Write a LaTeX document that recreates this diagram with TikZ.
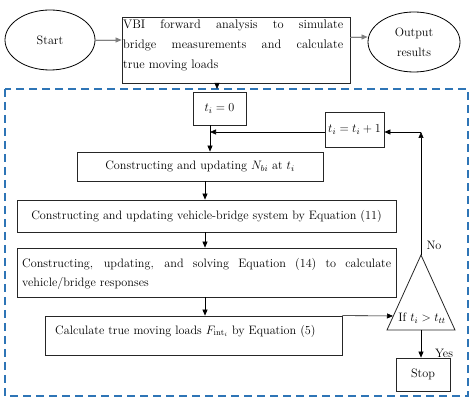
\RequirePackage{fix-cm}
\documentclass[tikz,border=0pt]{standalone}
\usepackage{fontspec}
\usetikzlibrary{arrows.meta,shapes.geometric}
\definecolor{dashblue}{RGB}{46,117,182}
\begin{document}
\begin{tikzpicture}[x=1pt,y=-1pt,
  every node/.style={font=\fontsize{12.2}{19}\selectfont},
  box/.style={draw=black!85,line width=0.8pt,rectangle,inner sep=0pt},
  oval/.style={draw=black,line width=0.8pt,ellipse,inner sep=0pt},
  arr/.style={-{Triangle[length=6pt,width=5pt]},line width=0.6pt,black},
  garr/.style={-{Triangle[length=6pt,width=5pt]},line width=0.7pt,draw=black!50,fill=black},
  lbl/.style={inner sep=0pt}]
\useasboundingbox (0,0) rectangle (474,403);
% top row
\node[oval,minimum width=90pt,minimum height=60pt] (start) at (50,40) {Start};
\node[box,minimum width=228pt,minimum height=66pt] (vbi) at (236,50) {};
\node[lbl,anchor=north west,text width=220pt,align=justify,font=\fontsize{12.4}{20}\selectfont] (vbitext) at (123,20) {VBI forward analysis to simulate\linebreak bridge measurements and calculate\linebreak true moving loads};
\node[oval,minimum width=92pt,minimum height=60pt,align=center,font=\fontsize{12.2}{20}\selectfont] (out) at (414,42) {Output\\results};
\draw[garr] (start.east |- 0,40) -- (vbi.west |- 0,40);
\draw[garr] (vbi.east |- 0,37) -- (out.west |- 0,37);
% dashed frame
\draw[dashblue,line width=1.6pt,dash pattern=on 8pt off 5pt] (5,89) rectangle (468,396);
\coordinate (frametop) at (217,89);
\draw[arr] (vbi.south -| 217,0) -- (frametop);
% loop boxes
\node[box,minimum width=53pt,minimum height=33pt] (t0) at (219.5,108.5) {$t_i=0$};
\node[box,minimum width=59pt,minimum height=35pt] (tinc) at (354.5,129.5) {$t_i=t_i+1$};
\node[box,minimum width=246pt,minimum height=29pt] (nbox) at (200,166.5) {Constructing and updating $N_{bi}$ at $t_i$};
\node[box,minimum width=379pt,minimum height=32pt] (sys) at (206.5,216) {Constructing and updating vehicle-bridge system by Equation (11)};
\node[box,minimum width=379pt,minimum height=49pt] (solve) at (206.5,272.5) {};
\node[lbl,anchor=north west,text width=369pt,align=justify] (solvetext) at (22,258) {Constructing, updating, and solving Equation (14) to calculate\linebreak vehicle/bridge responses};
\node[box,minimum width=297pt,minimum height=39pt] (calc) at (193.5,335.5) {};
\node[lbl,anchor=west] (calctext) at (55,331) {Calculate true moving loads\ $F_{\mathrm{int}_i}$\ by Equation (5)};
% decision triangle
\coordinate (apex) at (421,255);
\coordinate (bl) at (387,330);
\coordinate (br) at (455,330);
\coordinate (tribase) at (421,330);
\draw[black!85,line width=0.8pt] (apex) -- (bl) -- (br) -- cycle;
\node[lbl] (cond) at (422,318) {If $t_i>t_{tt}$};
\node[box,minimum width=54pt,minimum height=33pt] (stop) at (423,374.5) {Stop};
\node[lbl] (no) at (434,245) {No};
\node[lbl] (yes) at (444,353) {Yes};
% connectors
\coordinate (loopjoin) at (210,132);
\coordinate (loopcorner) at (421,132);
\coordinate (tri-left) at (393,316);
\draw[arr] (t0.south -| 210,0) -- (nbox.north -| 210,0);
\draw[arr] (tinc.west |- loopjoin) -- (loopjoin);
\draw[arr] (nbox.south -| 205,0) -- (sys.north -| 205,0);
\draw[arr] (sys.south -| 205,0) -- (solve.north -| 205,0);
\draw[arr] (solve.south -| 205,0) -- (calc.north -| 205,0);
\draw[arr] (calc.north east) -- (tri-left);
\draw[arr] (apex) -- (loopcorner);
\draw[arr] (loopcorner) -- (tinc.east |- loopcorner);
\draw[arr] (tribase) -- (stop.north -| tribase);
\end{tikzpicture}
\end{document}
